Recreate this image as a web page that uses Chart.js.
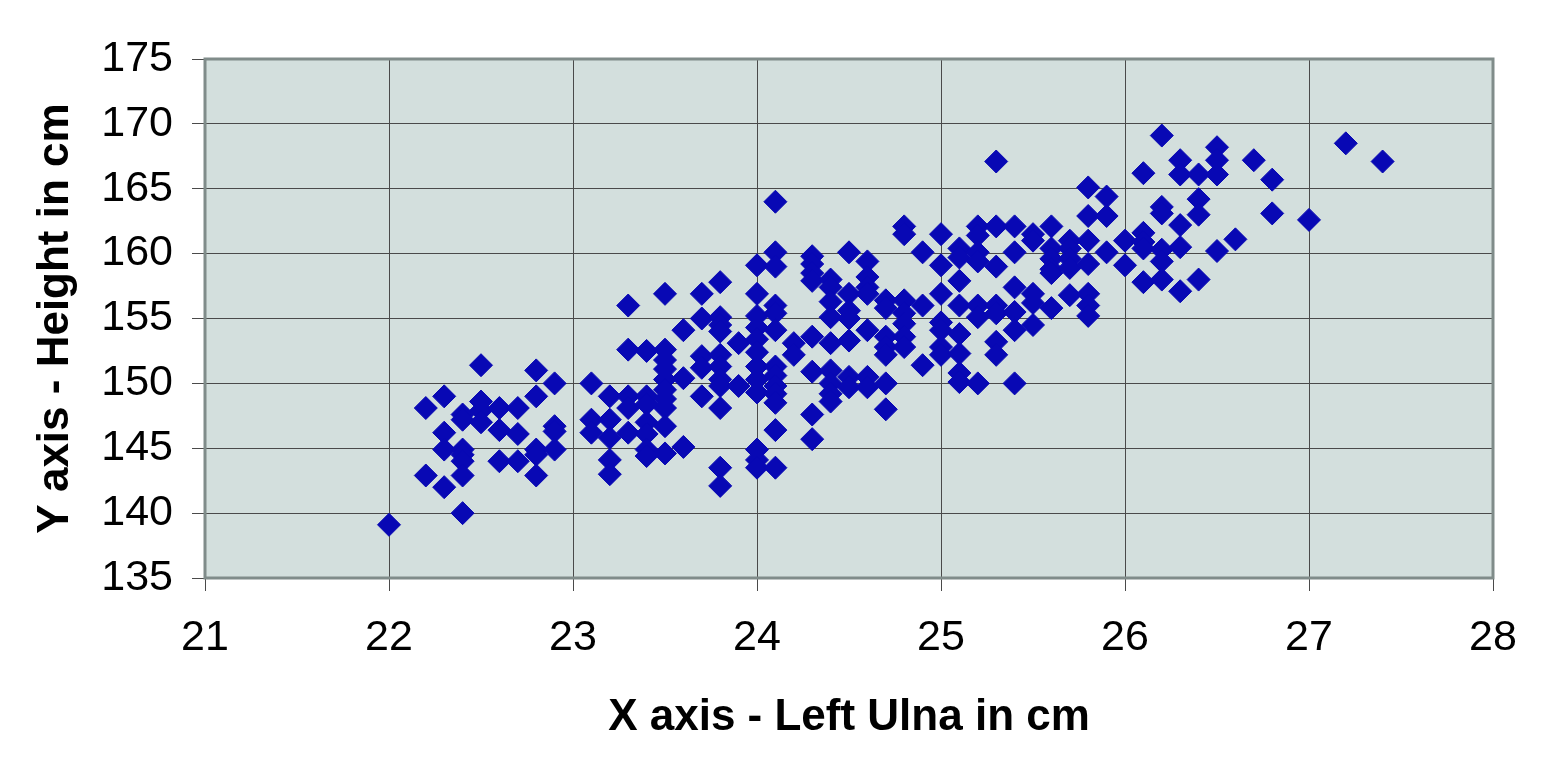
<!DOCTYPE html>
<html>
<head>
<meta charset="utf-8">
<script src="https://cdn.jsdelivr.net/npm/chart.js@4/dist/chart.umd.min.js"></script>
<style>
  body { margin: 0; background: #ffffff; }
  canvas { display: block; }
</style>
</head>
<body>
<canvas id="scatter" width="1546" height="764"></canvas>
<script>
// left ulna length (cm) for each column of points
var ulnaCm = [22.0, 22.2, 22.3, 22.4, 22.5, 22.6, 22.7, 22.8, 22.9,
  23.1, 23.2, 23.3, 23.4, 23.5, 23.6, 23.7, 23.8, 23.9,
  24.0, 24.1, 24.2, 24.3, 24.4, 24.5, 24.6, 24.7, 24.8, 24.9,
  25.0, 25.1, 25.2, 25.3, 25.4, 25.5, 25.6, 25.7, 25.8, 25.9,
  26.0, 26.1, 26.2, 26.3, 26.4, 26.5, 26.6, 26.7, 26.8,
  27.0, 27.2, 27.4];

// heights (cm) measured at each ulna length above
var heightCm = [
  [139.1],
  [148.1, 142.9],
  [149.0, 146.2, 144.9, 142.0],
  [147.6, 147.2, 144.9, 144.5, 144.0, 142.9, 140.0],
  [151.4, 148.6, 147.9, 147.0],
  [148.1, 146.4, 144.0],
  [148.1, 146.1, 144.0],
  [151.0, 149.0, 144.9, 144.5, 142.9],
  [150.0, 146.7, 146.3, 144.9],
  [150.0, 147.2, 146.2],
  [149.0, 147.2, 145.8, 144.1, 143.0],
  [156.0, 152.6, 149.0, 148.1, 146.2],
  [152.5, 149.0, 148.4, 147.0, 146.1, 144.9, 144.4],
  [156.9, 152.6, 151.8, 151.1, 150.3, 149.5, 148.8, 148.1, 146.7, 144.6],
  [154.1, 150.4, 145.1],
  [156.9, 155.0, 152.1, 151.2, 149.0],
  [157.8, 155.1, 154.5, 154.0, 152.2, 151.3, 150.3, 149.8, 148.1, 143.5, 142.1],
  [153.1, 149.8],
  [159.1, 156.9, 155.2, 154.3, 153.4, 152.4, 151.3, 150.3, 149.3, 144.9, 144.1, 143.5],
  [164.0, 160.1, 159.0, 156.0, 155.4, 154.1, 151.3, 150.6, 149.8, 149.2, 148.5, 146.4, 143.5],
  [153.1, 152.2],
  [159.8, 159.2, 158.5, 157.9, 153.6, 150.9, 147.6, 145.7],
  [158.0, 157.4, 156.3, 155.1, 153.1, 151.0, 150.0, 149.2, 148.6],
  [160.1, 156.9, 155.6, 155.0, 153.3, 150.5, 149.7],
  [159.4, 158.2, 157.4, 156.9, 154.1, 150.5, 149.7],
  [156.4, 155.8, 153.6, 152.8, 152.2, 150.0, 148.0],
  [162.1, 161.5, 156.4, 155.4, 154.6, 153.6, 152.8],
  [160.1, 156.0, 151.4],
  [161.5, 159.1, 156.9, 154.7, 154.1, 152.8, 152.2],
  [160.4, 159.7, 157.9, 156.0, 153.8, 152.3, 150.8, 150.1],
  [162.1, 161.4, 160.1, 159.4, 156.0, 155.1, 150.0],
  [167.1, 162.1, 159.0, 156.0, 155.4, 153.2, 152.2],
  [162.1, 160.1, 157.4, 155.5, 154.1, 150.0],
  [161.5, 161.0, 156.9, 156.2, 154.5],
  [162.1, 160.4, 159.6, 158.8, 158.5, 155.8],
  [161.0, 160.4, 159.6, 158.9, 156.8],
  [165.1, 162.9, 161.0, 159.2, 156.9, 156.0, 155.2],
  [164.4, 162.9, 160.1],
  [161.0, 159.1],
  [166.2, 161.6, 160.9, 160.4, 157.8],
  [169.1, 163.6, 163.1, 160.3, 159.4, 158.0],
  [167.2, 166.1, 162.2, 160.5, 157.1],
  [166.1, 164.2, 163.0, 158.0],
  [168.2, 167.2, 166.1, 160.2],
  [161.1],
  [167.2],
  [165.7, 163.1],
  [162.6],
  [168.5],
  [167.1]
];

var xTicks = [21, 22, 23, 24, 25, 26, 27, 28];
var yTicks = [135, 140, 145, 150, 155, 160, 165, 170, 175];

var points = [];
ulnaCm.forEach(function (x, i) {
  heightCm[i].forEach(function (y) {
    points.push({ x: x, y: y });
  });
});

// grey-green plot background and frame, like the old spreadsheet chart
var plotArea = {
  id: 'plotArea',
  beforeDraw: function (chart) {
    var a = chart.chartArea, ctx = chart.ctx;
    ctx.save();
    ctx.fillStyle = '#d3dfdd';
    ctx.fillRect(a.left, a.top, a.right - a.left, a.bottom - a.top);
    ctx.restore();
  },
  beforeDatasetsDraw: function (chart) {
    var a = chart.chartArea, ctx = chart.ctx;
    ctx.save();
    ctx.strokeStyle = '#808c8a';
    ctx.lineWidth = 3;
    ctx.strokeRect(a.left, a.top, a.right - a.left, a.bottom - a.top);
    ctx.restore();
  }
};

var tickFont = { family: 'Liberation Sans, Arial, sans-serif', size: 43 };
var titleFont = { family: 'Liberation Sans, Arial, sans-serif', size: 44, weight: 'bold' };

new Chart(document.getElementById('scatter').getContext('2d'), {
  type: 'scatter',
  data: {
    datasets: [{
      label: 'Height vs ulna',
      data: points,
      pointStyle: 'rectRot',
      pointRadius: 11.5,
      pointHoverRadius: 11.5,
      backgroundColor: '#0808b4',
      borderColor: '#0808b4',
      borderWidth: 1
    }]
  },
  options: {
    responsive: false,
    animation: false,
    events: [],
    layout: { padding: { top: 59, right: 53, bottom: 0, left: 0 } },
    plugins: {
      legend: { display: false },
      tooltip: { enabled: false }
    },
    scales: {
      x: {
        type: 'linear',
        min: 21,
        max: 28,
        afterBuildTicks: function (scale) {
          scale.ticks = xTicks.map(function (v) { return { value: v }; });
        },
        afterFit: function (scale) { scale.height = 186; },
        grid: { color: '#4a4a4a', lineWidth: 1, tickLength: 13 },
        border: { display: false },
        ticks: { color: '#000000', font: tickFont, padding: 21, maxRotation: 0 },
        title: {
          display: true,
          text: 'X axis - Left Ulna in cm',
          color: '#000000',
          font: titleFont,
          padding: { top: 0, bottom: 20 }
        }
      },
      y: {
        type: 'linear',
        min: 135,
        max: 175,
        afterBuildTicks: function (scale) {
          scale.ticks = yTicks.map(function (v) { return { value: v }; });
        },
        afterFit: function (scale) { scale.width = 205; },
        grid: { color: '#4a4a4a', lineWidth: 1, tickLength: 13 },
        border: { display: false },
        ticks: { color: '#000000', font: tickFont, padding: 19 },
        title: {
          display: true,
          text: 'Y axis - Height in cm',
          color: '#000000',
          font: titleFont,
          padding: { top: 29, bottom: 0 }
        }
      }
    }
  },
  plugins: [plotArea]
});
</script>
</body>
</html>
